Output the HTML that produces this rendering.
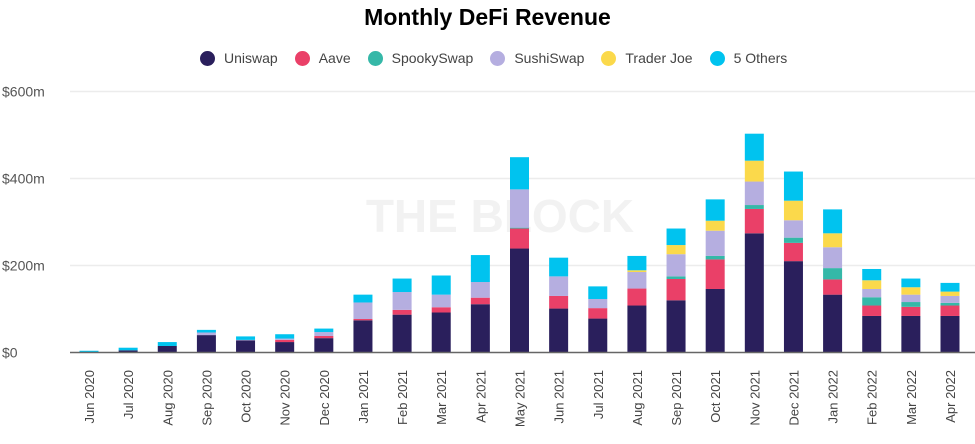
<!DOCTYPE html>
<html><head><meta charset="utf-8"><style>
body{margin:0;background:#fff;width:975px;height:444px;overflow:hidden;font-family:"Liberation Sans",sans-serif}
#title{position:absolute;left:0;width:975px;top:4px;text-align:center;font-weight:bold;font-size:23px;color:#000}
#legend{position:absolute;top:50px;left:200px;display:flex;font-size:14px;color:#444}
.li{display:flex;align-items:center;margin-right:17px}
.dot{width:15px;height:15px;border-radius:50%;margin-right:9px}
</style></head><body>
<div id="title">Monthly DeFi Revenue</div>
<div id="legend"></div>
<svg id="chart" width="975" height="444" style="position:absolute;left:0;top:0"></svg>
<script>
const categories=["Jun 2020","Jul 2020","Aug 2020","Sep 2020","Oct 2020","Nov 2020","Dec 2020","Jan 2021","Feb 2021","Mar 2021","Apr 2021","May 2021","Jun 2021","Jul 2021","Aug 2021","Sep 2021","Oct 2021","Nov 2021","Dec 2021","Jan 2022","Feb 2022","Mar 2022","Apr 2022"];
const seriesNames=["Uniswap","Aave","SpookySwap","SushiSwap","Trader Joe","5 Others"];
const seriesColors=["#2a1f5c","#ea4068","#35b8a8","#b5aee0","#fbd94b","#00c3ef"];
const uniswap=[1,5,15,40,28,24,33,74,87,92,111,239,101,78,108,120,146,274,210,133,84,84,84];
const aave=[0,0,0,0,0,5,5,3,11,12,15,46,29,24,39,49,68,56,42,35,24,21,24];
const spooky=[0,0,0,0,0,0,0,0,0,0,0,2,0,0,0,6,8,9,12,26,19,11,6];
const sushi=[0,0,0,6,1,3,9,38,41,29,36,88,45,21,38,51,58,54,40,48,19,17,16];
const traderJoe=[0,0,0,0,0,0,0,0,0,0,0,0,0,0,4,21,23,48,45,32,20,17,10];
const others=[3,6,9,6,8,10,8,18,31,44,62,74,43,29,33,38,49,62,67,55,26,20,20];
const yTicks=[0,200,400,600];
const yTickLabels=["$0","$200m","$400m","$600m"];
const series=[uniswap,aave,spooky,sushi,traderJoe,others];
const NS="http://www.w3.org/2000/svg";
const svg=document.getElementById('chart');
const y0=352.5,pxPer=87/200;
const y=v=>y0-v*pxPer;
const x=i=>89+i*(950-89)/(categories.length-1);
const bw=19;
function mk(t,a){const e=document.createElementNS(NS,t);for(const k in a)e.setAttribute(k,a[k]);svg.appendChild(e);return e;}
yTicks.forEach((t,i)=>{
  if(t>0){const g=mk('line',{x1:70,x2:975,y1:y(t),y2:y(t),stroke:'#ececec','stroke-width':1.5});
  
  }
  const l=mk('text',{x:2,y:y(t)+5,'font-size':14,fill:'#555','font-family':'Liberation Sans, sans-serif'});
  l.textContent=yTickLabels[i];
  
  
});
const wm=mk('text',{x:500,y:232,'font-size':46,'font-weight':'bold',fill:'#f2f2f2','text-anchor':'middle','font-family':'Liberation Sans, sans-serif'});
wm.textContent="THE BLOCK";


categories.forEach((c,i)=>{
  let acc=0;
  series.forEach((s,j)=>{
    const v=s[i];if(v<=0)return;
    const r=mk('rect',{x:x(i)-bw/2,y:y(acc+v),width:bw,height:v*pxPer,fill:seriesColors[j]});
    
    
    acc+=v;
  });
  const t=mk('text',{x:0,y:0,'font-size':13,fill:'#444','text-anchor':'end','font-family':'Liberation Sans, sans-serif',transform:`translate(${x(i)+5},370) rotate(-90)`});
  t.textContent=c;
  
  
});
const base=mk('line',{x1:70,x2:975,y1:y0,y2:y0,stroke:'#666','stroke-width':1.5});


const lg=document.getElementById('legend');
seriesNames.forEach((n,j)=>{
  const d=document.createElement('div');d.className='li';
  
  
  d.innerHTML=`<span class="dot" style="background:${seriesColors[j]}"></span>${n}`;
  lg.appendChild(d);
});
</script>
</body></html>
